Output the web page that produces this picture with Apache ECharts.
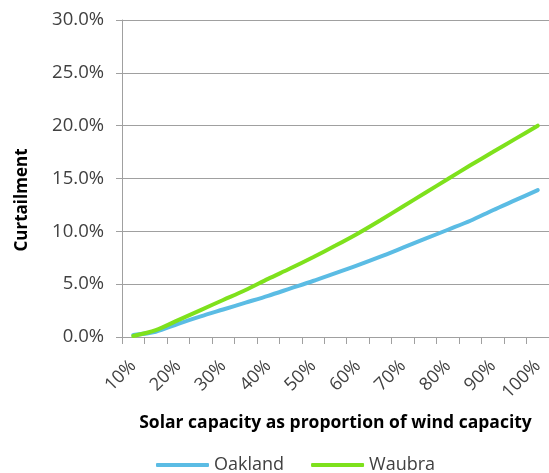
<!DOCTYPE html>
<html><head><meta charset="utf-8">
<script src="https://cdn.jsdelivr.net/npm/echarts@6/dist/echarts.min.js"></script>
<style>html,body{margin:0;padding:0;background:#fff}#c{width:549px;height:473px}</style>
</head><body><div id="c"></div>
<script>
const categories = ['10%','15%','20%','25%','30%','35%','40%','45%','50%','55%','60%','65%','70%','75%','80%','85%','90%','95%','100%'];
const oakland = [0.2,0.5,1.25,1.95,2.6,3.25,3.9,4.6,5.3,6.05,6.8,7.6,8.45,9.3,10.15,11.0,12.0,12.95,13.9];
const waubra  = [0.1,0.65,1.6,2.55,3.5,4.45,5.5,6.5,7.55,8.65,9.8,11.05,12.35,13.65,14.95,16.25,17.5,18.75,20.0];
const seriesNames = ['Oakland','Waubra'];
const yTitle = 'Curtailment';
const xTitle = 'Solar capacity as proportion of wind capacity';

const FONT = '"Open Sans", sans-serif';
const TXT = '#404040';
const chart = echarts.init(document.getElementById('c'), null, {renderer:'canvas'});
chart.setOption({
  animation: false,
  backgroundColor: '#fff',
  grid: {left: 122, right: 0, top: 20, bottom: 136},
  legend: {
    left: 151, top: 451, itemWidth: 53, itemHeight: 4, itemGap: 27, icon: 'roundRect',
    textStyle: {fontFamily: FONT, fontSize: 18, color: TXT},
    data: seriesNames
  },
  graphic: [{
    type: 'text', x: 22, y: 200, rotation: Math.PI/2,
    style: {text: yTitle, fontFamily: FONT, fontWeight: 'bold', fontSize: 17, fill: '#000', align: 'center', verticalAlign: 'middle'}
  }],
  xAxis: {
    type: 'category', data: categories, boundaryGap: true,
    name: xTitle, nameLocation: 'middle', nameGap: 77,
    nameTextStyle: {fontFamily: FONT, fontWeight: 'bold', fontSize: 17.5, color: '#000'},
    axisLine: {lineStyle: {color: '#a0a0a0', width: 1}},
    axisTick: {show: true, length: 7, interval: 0, lineStyle: {color: '#a0a0a0'}},
    axisLabel: {interval: 1, rotate: 45, margin: 26, fontFamily: FONT, fontSize: 18, color: TXT},
    splitLine: {show: false}
  },
  yAxis: {
    type: 'value', min: 0, max: 30, interval: 5,
    axisLine: {show: true, lineStyle: {color: '#a0a0a0', width: 1}},
    axisTick: {show: true, length: 6, lineStyle: {color: '#a0a0a0'}},
    axisLabel: {margin: 18, fontFamily: FONT, fontSize: 18.5, color: TXT, formatter: v => v.toFixed(1) + '%'},
    splitLine: {lineStyle: {color: '#a0a0a0', width: 1}}
  },
  series: [
    {name: seriesNames[0], type: 'line', data: oakland, symbol: 'none', smooth: 0.3,
     lineStyle: {color: '#5bbce4', width: 4, cap: 'round'}, itemStyle: {color: '#5bbce4'}},
    {name: seriesNames[1], type: 'line', data: waubra, symbol: 'none', smooth: 0.3,
     lineStyle: {color: '#7ee11c', width: 4, cap: 'round'}, itemStyle: {color: '#7ee11c'}}
  ]
});
</script></body></html>
